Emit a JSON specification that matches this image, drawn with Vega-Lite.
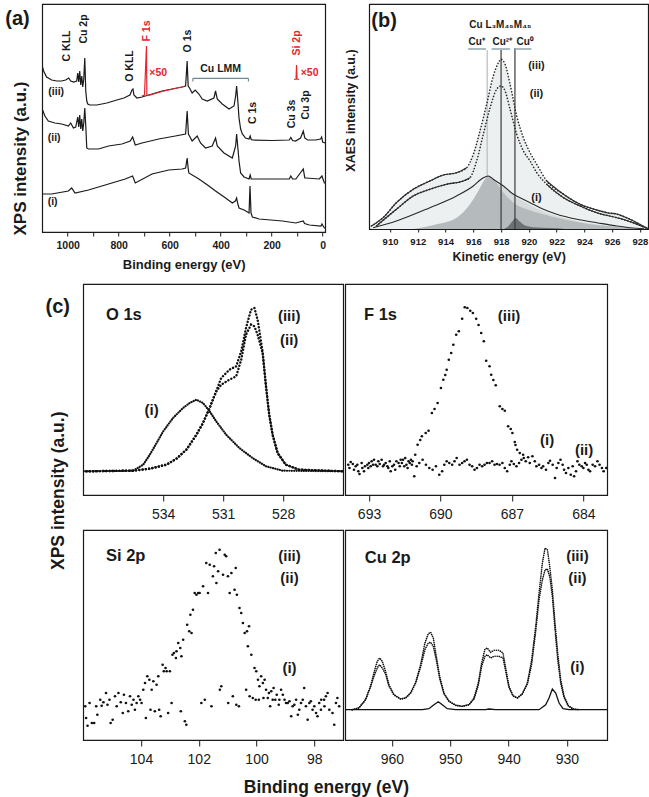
{
"$schema": "https://vega.github.io/schema/vega-lite/v6.json",
"background": "white",
"padding": {"left": 4, "top": 3, "right": 0, "bottom": 0},
"config": {
 "font": "Liberation Sans",
 "view": {"stroke": "#1a1a1a", "strokeWidth": 1.2},
 "axis": {"grid": false, "domainColor": "#1a1a1a", "tickColor": "#1a1a1a", "labelColor": "#1a1a1a", "titleColor": "#1a1a1a", "labelFont": "Liberation Sans", "titleFont": "Liberation Sans"},
 "title": {"font": "Liberation Sans", "color": "#1a1a1a"},
 "text": {"font": "Liberation Sans"}
},
"datasets": {
 "aSpec": [
  {"s":"iii","E":1100,"I":166},{"s":"iii","E":1094.5,"I":161},{"s":"iii","E":1082.7,"I":155},{"s":"iii","E":1063,"I":152},{"s":"iii","E":1043.3,"I":151},{"s":"iii","E":1023.6,"I":151},{"s":"iii","E":1007.9,"I":152},{"s":"iii","E":996,"I":154},{"s":"iii","E":988.2,"I":151},{"s":"iii","E":976.4,"I":150},{"s":"iii","E":964.6,"I":151},{"s":"iii","E":960.6,"I":159},{"s":"iii","E":956.7,"I":150},{"s":"iii","E":952.8,"I":161},{"s":"iii","E":948.8,"I":147},{"s":"iii","E":944.9,"I":156},{"s":"iii","E":940.9,"I":145},{"s":"iii","E":937,"I":153},{"s":"iii","E":933,"I":174},{"s":"iii","E":929.1,"I":141},{"s":"iii","E":925.2,"I":131},{"s":"iii","E":921.3,"I":128},{"s":"iii","E":913.4,"I":127},{"s":"iii","E":885.8,"I":127},{"s":"iii","E":846.5,"I":129},{"s":"iii","E":807.1,"I":132},{"s":"iii","E":779.5,"I":134},{"s":"iii","E":763.8,"I":136},{"s":"iii","E":755.9,"I":137},{"s":"iii","E":748,"I":142},{"s":"iii","E":744.1,"I":143},{"s":"iii","E":740.2,"I":137},{"s":"iii","E":728.3,"I":134},{"s":"iii","E":708.7,"I":135},{"s":"iii","E":669.3,"I":138},{"s":"iii","E":629.9,"I":141},{"s":"iii","E":590.6,"I":143},{"s":"iii","E":551.2,"I":145},{"s":"iii","E":537.5,"I":146},{"s":"iii","E":531.5,"I":171},{"s":"iii","E":527.5,"I":146},{"s":"iii","E":522,"I":144},{"s":"iii","E":511.8,"I":139},{"s":"iii","E":500,"I":142},{"s":"iii","E":485.4,"I":138},{"s":"iii","E":472.4,"I":133},{"s":"iii","E":452.8,"I":131},{"s":"iii","E":426.4,"I":134},{"s":"iii","E":420.1,"I":141},{"s":"iii","E":413.4,"I":133},{"s":"iii","E":393.7,"I":128},{"s":"iii","E":367.3,"I":123},{"s":"iii","E":347.6,"I":126},{"s":"iii","E":341.3,"I":136},{"s":"iii","E":337.4,"I":146},{"s":"iii","E":332.7,"I":131},{"s":"iii","E":328,"I":114},{"s":"iii","E":321.7,"I":103},{"s":"iii","E":315,"I":98},{"s":"iii","E":308.3,"I":96},{"s":"iii","E":303.1,"I":94},{"s":"iii","E":288.6,"I":93},{"s":"iii","E":284.3,"I":96},{"s":"iii","E":280.3,"I":92.5},{"s":"iii","E":275.6,"I":92},{"s":"iii","E":196.9,"I":91.5},{"s":"iii","E":131.1,"I":92},{"s":"iii","E":124.8,"I":94.5},{"s":"iii","E":118.1,"I":91.5},{"s":"iii","E":106.3,"I":91},{"s":"iii","E":86.6,"I":94},{"s":"iii","E":76,"I":101},{"s":"iii","E":70,"I":94},{"s":"iii","E":59,"I":92},{"s":"iii","E":27.6,"I":92},{"s":"iii","E":7.9,"I":93},{"s":"iii","E":3.9,"I":95},{"s":"iii","E":0,"I":90},{"s":"iii","E":-10,"I":89},
  {"s":"ii","E":1100,"I":123},{"s":"ii","E":1089.4,"I":116},{"s":"ii","E":1076,"I":111},{"s":"ii","E":1050,"I":109},{"s":"ii","E":1023.6,"I":108},{"s":"ii","E":997.2,"I":106},{"s":"ii","E":988.2,"I":109},{"s":"ii","E":977.6,"I":104},{"s":"ii","E":968.5,"I":105},{"s":"ii","E":960.6,"I":115},{"s":"ii","E":956.7,"I":105},{"s":"ii","E":952.8,"I":117},{"s":"ii","E":948.8,"I":103},{"s":"ii","E":944.9,"I":113},{"s":"ii","E":940.9,"I":101},{"s":"ii","E":937,"I":109},{"s":"ii","E":933,"I":124},{"s":"ii","E":929.1,"I":106},{"s":"ii","E":925.2,"I":84},{"s":"ii","E":918.5,"I":83},{"s":"ii","E":879.1,"I":83},{"s":"ii","E":839.8,"I":86},{"s":"ii","E":787.4,"I":88},{"s":"ii","E":754.7,"I":91},{"s":"ii","E":745.3,"I":95},{"s":"ii","E":735,"I":87},{"s":"ii","E":708.7,"I":89},{"s":"ii","E":642.9,"I":93},{"s":"ii","E":577.6,"I":96},{"s":"ii","E":537.5,"I":98},{"s":"ii","E":531.5,"I":121},{"s":"ii","E":526.5,"I":98},{"s":"ii","E":511.8,"I":91},{"s":"ii","E":492.1,"I":96},{"s":"ii","E":479.1,"I":89},{"s":"ii","E":459.4,"I":84},{"s":"ii","E":433.1,"I":86},{"s":"ii","E":420.1,"I":94},{"s":"ii","E":413.4,"I":86},{"s":"ii","E":387,"I":79},{"s":"ii","E":354.3,"I":74},{"s":"ii","E":341.3,"I":86},{"s":"ii","E":337.4,"I":98},{"s":"ii","E":328,"I":71},{"s":"ii","E":321.7,"I":59},{"s":"ii","E":308.3,"I":55},{"s":"ii","E":288.6,"I":53},{"s":"ii","E":284.3,"I":57},{"s":"ii","E":280.3,"I":53},{"s":"ii","E":275.6,"I":53},{"s":"ii","E":131.1,"I":53},{"s":"ii","E":124.8,"I":56},{"s":"ii","E":118,"I":53},{"s":"ii","E":105.1,"I":53},{"s":"ii","E":76,"I":63},{"s":"ii","E":70,"I":54},{"s":"ii","E":65.7,"I":54},{"s":"ii","E":13,"I":53},{"s":"ii","E":2.8,"I":56},{"s":"ii","E":-6.7,"I":49},{"s":"ii","E":-10,"I":49},
  {"s":"i","E":1100,"I":38},{"s":"i","E":1063,"I":38},{"s":"i","E":997.2,"I":41},{"s":"i","E":984.3,"I":44},{"s":"i","E":971.3,"I":39},{"s":"i","E":918.5,"I":42},{"s":"i","E":839.8,"I":48},{"s":"i","E":774.4,"I":53},{"s":"i","E":745.3,"I":56},{"s":"i","E":735,"I":49},{"s":"i","E":669.3,"I":58},{"s":"i","E":603.5,"I":62},{"s":"i","E":551.2,"I":63},{"s":"i","E":537.4,"I":64},{"s":"i","E":531.5,"I":74},{"s":"i","E":527.6,"I":64},{"s":"i","E":524.9,"I":59},{"s":"i","E":485.4,"I":53},{"s":"i","E":446.1,"I":46},{"s":"i","E":420.1,"I":41},{"s":"i","E":380.7,"I":34},{"s":"i","E":354.3,"I":29},{"s":"i","E":342.5,"I":31},{"s":"i","E":337.4,"I":34},{"s":"i","E":332.7,"I":28},{"s":"i","E":328,"I":24},{"s":"i","E":308.3,"I":22},{"s":"i","E":288.6,"I":19},{"s":"i","E":285,"I":46},{"s":"i","E":281,"I":19},{"s":"i","E":275.6,"I":15},{"s":"i","E":249.3,"I":13},{"s":"i","E":157.5,"I":11},{"s":"i","E":105.1,"I":9},{"s":"i","E":76,"I":11},{"s":"i","E":70.9,"I":8.5},{"s":"i","E":52.4,"I":7},{"s":"i","E":6.7,"I":6},{"s":"i","E":2.8,"I":8},{"s":"i","E":-6.7,"I":4},{"s":"i","E":-10,"I":4}
 ],
 "aRed": [
  {"g":"F","E":708.7,"I":136},{"g":"F","E":698.8,"I":137},{"g":"F","E":691,"I":186},{"g":"F","E":689.5,"I":137},{"g":"F","E":685,"I":136.5},{"g":"F","E":629.9,"I":140.5},{"g":"F","E":570.9,"I":144},{"g":"F","E":543.3,"I":145.5},
  {"g":"Si","E":112.2,"I":152.5},{"g":"Si","E":104.3,"I":153},{"g":"Si","E":102.4,"I":167},{"g":"Si","E":100.4,"I":153},{"g":"Si","E":92.5,"I":152.5}
 ],
 "aBracket": [
  {"E":509,"E2":291,"I":153.7,"I2":153.7},{"E":509,"E2":509,"I":150.5,"I2":153.7},{"E":291,"E2":291,"I":150.5,"I2":153.7}
 ],
 "aLabV": [
  {"t":"C KLL","E":1004,"I":186},{"t":"Cu 2p","E":937,"I":203},{"t":"O KLL","E":756,"I":166},{"t":"O 1s","E":528,"I":191},{"t":"C 1s","E":272,"I":119},{"t":"Cu 3s","E":122,"I":118},{"t":"Cu 3p","E":67,"I":127}
 ],
 "aLabVRed": [
  {"t":"F 1s","E":689,"I":201},{"t":"Si 2p","E":102,"I":189}
 ],
 "aLabH": [
  {"t":"Cu LMM","E":400,"I":162.7},{"t":"(iii)","E":1045,"I":140},{"t":"(ii)","E":1053,"I":94},{"t":"(i)","E":1059,"I":30}
 ],
 "aLabHRed": [
  {"t":"×50","E":645,"I":159},{"t":"×50","E":51,"I":159}
 ],
 "aPanel": [{"t":"(a)","E":1197,"I":213}],
 "bSpec": [
  {"s":"iii","seg":"L","E":908.66,"I":3},{"s":"iii","seg":"L","E":909.5,"I":11.3},{"s":"iii","seg":"L","E":910.46,"I":26.3},{"s":"iii","seg":"L","E":911.67,"I":39.7},{"s":"iii","seg":"L","E":912.87,"I":48},{"s":"iii","seg":"L","E":913.83,"I":54},{"s":"iii","seg":"L","E":914.79,"I":56.3},{"s":"iii","seg":"L","E":915.52,"I":61.3},
  {"s":"iii","seg":"C","E":916.0,"I":74.7},{"s":"iii","seg":"C","E":916.48,"I":98},{"s":"iii","seg":"C","E":916.96,"I":124.7},{"s":"iii","seg":"C","E":917.44,"I":153},{"s":"iii","seg":"C","E":917.81,"I":166.3},{"s":"iii","seg":"C","E":918.0,"I":169.7},{"s":"iii","seg":"C","E":918.29,"I":164.7},{"s":"iii","seg":"C","E":918.65,"I":144.7},{"s":"iii","seg":"C","E":919.13,"I":113},{"s":"iii","seg":"C","E":919.61,"I":91.3},{"s":"iii","seg":"C","E":920.09,"I":76.3},{"s":"iii","seg":"C","E":920.57,"I":64.7},
  {"s":"iii","seg":"R","E":921.29,"I":48},{"s":"iii","seg":"R","E":922.5,"I":34.7},{"s":"iii","seg":"R","E":923.7,"I":24.7},{"s":"iii","seg":"R","E":924.9,"I":19},{"s":"iii","seg":"R","E":925.75,"I":16},{"s":"iii","seg":"R","E":926.32,"I":15},{"s":"iii","seg":"R","E":926.83,"I":12.5},{"s":"iii","seg":"R","E":927.55,"I":8},{"s":"iii","seg":"R","E":928.27,"I":2.5},{"s":"iii","seg":"R","E":928.64,"I":0},
  {"s":"ii","seg":"L","E":909.02,"I":3},{"s":"ii","seg":"L","E":910.46,"I":19.7},{"s":"ii","seg":"L","E":911.67,"I":33},{"s":"ii","seg":"L","E":912.87,"I":39.7},{"s":"ii","seg":"L","E":914.07,"I":44.7},{"s":"ii","seg":"L","E":915.28,"I":48},{"s":"ii","seg":"L","E":915.76,"I":51.3},
  {"s":"ii","seg":"C","E":916.24,"I":68},{"s":"ii","seg":"C","E":916.72,"I":94.7},{"s":"ii","seg":"C","E":917.21,"I":121.3},{"s":"ii","seg":"C","E":917.68,"I":139.7},{"s":"ii","seg":"C","E":918.0,"I":143},{"s":"ii","seg":"C","E":918.29,"I":138},{"s":"ii","seg":"C","E":918.65,"I":119.7},{"s":"ii","seg":"C","E":919.13,"I":94.7},{"s":"ii","seg":"C","E":919.61,"I":78},{"s":"ii","seg":"C","E":920.09,"I":68},{"s":"ii","seg":"C","E":920.57,"I":56.3},
  {"s":"ii","seg":"R","E":921.29,"I":44.7},{"s":"ii","seg":"R","E":922.5,"I":31.3},{"s":"ii","seg":"R","E":923.7,"I":23},{"s":"ii","seg":"R","E":924.9,"I":16.3},{"s":"ii","seg":"R","E":926.35,"I":11.3},{"s":"ii","seg":"R","E":927.31,"I":7.3},{"s":"ii","seg":"R","E":928.27,"I":2},{"s":"ii","seg":"R","E":928.64,"I":0},
  {"s":"i","seg":"L","E":908.78,"I":1.3},{"s":"i","seg":"L","E":910.46,"I":8},{"s":"i","seg":"L","E":912.87,"I":21.3},{"s":"i","seg":"L","E":914.79,"I":33},{"s":"i","seg":"L","E":916.0,"I":43},{"s":"i","seg":"L","E":916.72,"I":51.3},{"s":"i","seg":"L","E":917.08,"I":53},{"s":"i","seg":"L","E":917.44,"I":49.7},{"s":"i","seg":"L","E":918.17,"I":43},{"s":"i","seg":"L","E":918.89,"I":34.7},{"s":"i","seg":"L","E":919.37,"I":31.3},{"s":"i","seg":"L","E":920.09,"I":26.3},{"s":"i","seg":"L","E":921.05,"I":19.7},{"s":"i","seg":"L","E":922.01,"I":14.7},{"s":"i","seg":"L","E":923.46,"I":9.7},{"s":"i","seg":"L","E":924.9,"I":6.3},{"s":"i","seg":"L","E":926.35,"I":3},{"s":"i","seg":"L","E":927.31,"I":1.3},{"s":"i","seg":"L","E":928.3,"I":0.3}
 ],
 "bCu2": [
  {"E":914.5,"I":0},{"E":915.5,"I":12},{"E":916.2,"I":28},{"E":916.8,"I":40},{"E":917.3,"I":46},{"E":917.7,"I":46.5},{"E":918.1,"I":42.5},{"E":918.6,"I":37},{"E":919.1,"I":31.5},{"E":919.6,"I":28},{"E":920.1,"I":24},{"E":921.0,"I":18},{"E":922.0,"I":13},{"E":923.0,"I":9.5},{"E":924.0,"I":6.5},{"E":925.0,"I":4.5},{"E":926.0,"I":3},{"E":927.0,"I":1.5},{"E":928.0,"I":0.5}
 ],
 "bCuP": [
  {"E":911.67,"I":0},{"E":913.35,"I":4.7},{"E":914.79,"I":11.3},{"E":915.76,"I":24.7},{"E":916.36,"I":38},{"E":916.84,"I":49.7},{"E":917.16,"I":53},{"E":917.57,"I":48},{"E":918.17,"I":36.3},{"E":918.89,"I":26.3},{"E":919.85,"I":19.7},{"E":921.05,"I":14.7},{"E":922.5,"I":9.7},{"E":924.43,"I":4.7},{"E":926.35,"I":2},{"E":927.79,"I":0.7},{"E":928.5,"I":0}
 ],
 "bCu0": [
  {"E":918.2,"I":0},{"E":918.5,"I":2.5},{"E":918.8,"I":7.5},{"E":919.05,"I":11},{"E":919.3,"I":8},{"E":919.6,"I":4.5},{"E":920.0,"I":2.5},{"E":920.6,"I":1.5},{"E":921.5,"I":1},{"E":922.5,"I":0.3}
 ],
 "bLines": [
  {"k":"Cu+","E":917,"I":179},{"k":"Cu2+","E":918,"I":179},{"k":"Cu0","E":919,"I":181}
 ],
 "bUnder": [
  {"E":915.63,"E2":916.92,"I":180},{"E":917.32,"E2":918.65,"I":180},{"E":918.95,"E2":920.19,"I":180}
 ],
 "bLab": [
  {"t":"Cu L₃M₄₅M₄₅","E":917.95,"I":204},{"t":"Cu⁺","E":916.24,"I":187},{"t":"Cu²⁺","E":918.09,"I":187},{"t":"Cu⁰","E":919.73,"I":187}
 ],
 "bLabC": [
  {"t":"(iii)","E":920.55,"I":163},{"t":"(ii)","E":920.55,"I":135},{"t":"(i)","E":920.55,"I":31}
 ],
 "bPanel": [{"t":"(b)","E":909.57,"I":208}],
 "o1s": [
  {"s":"i","E":538,"I":23.7},{"s":"i","E":535.5,"I":24.3},{"s":"i","E":535.0,"I":30.3},{"s":"i","E":534.67,"I":40.3},{"s":"i","E":534.33,"I":52},{"s":"i","E":534.0,"I":63.7},{"s":"i","E":533.51,"I":77},{"s":"i","E":533.01,"I":87},{"s":"i","E":532.68,"I":92},{"s":"i","E":532.34,"I":95.3},{"s":"i","E":532.01,"I":92},{"s":"i","E":531.68,"I":83.7},{"s":"i","E":531.35,"I":73.7},{"s":"i","E":530.85,"I":60.3},{"s":"i","E":530.19,"I":47},{"s":"i","E":529.53,"I":37},{"s":"i","E":528.86,"I":28.7},{"s":"i","E":528.03,"I":24.3},{"s":"i","E":525,"I":23.7},
  {"s":"ii","E":538,"I":23.7},{"s":"ii","E":535.5,"I":24.3},{"s":"ii","E":534.67,"I":26.3},{"s":"ii","E":533.84,"I":30.3},{"s":"ii","E":533.34,"I":36.3},{"s":"ii","E":532.84,"I":45.3},{"s":"ii","E":532.34,"I":60.3},{"s":"ii","E":532.01,"I":72},{"s":"ii","E":531.68,"I":87},{"s":"ii","E":531.35,"I":103.7},{"s":"ii","E":531.1,"I":110.3},{"s":"ii","E":530.69,"I":115.3},{"s":"ii","E":530.35,"I":118.7},{"s":"ii","E":530.1,"I":135.3},{"s":"ii","E":529.86,"I":160.3},{"s":"ii","E":529.61,"I":170.3},{"s":"ii","E":529.44,"I":168.7},{"s":"ii","E":529.28,"I":160.3},{"s":"ii","E":529.03,"I":142},{"s":"ii","E":528.86,"I":108.7},{"s":"ii","E":528.7,"I":80.3},{"s":"ii","E":528.53,"I":60.3},{"s":"ii","E":528.28,"I":42},{"s":"ii","E":527.87,"I":30.3},{"s":"ii","E":527.2,"I":25.3},{"s":"ii","E":525,"I":23.7},
  {"s":"iii","E":538,"I":23.7},{"s":"iii","E":535.5,"I":24.3},{"s":"iii","E":534.67,"I":26.3},{"s":"iii","E":533.84,"I":30.3},{"s":"iii","E":533.34,"I":36.3},{"s":"iii","E":532.84,"I":45.3},{"s":"iii","E":532.34,"I":60.3},{"s":"iii","E":532.01,"I":72},{"s":"iii","E":531.68,"I":87},{"s":"iii","E":531.35,"I":103.7},{"s":"iii","E":531.1,"I":117},{"s":"iii","E":530.69,"I":125.3},{"s":"iii","E":530.35,"I":128.7},{"s":"iii","E":530.1,"I":143.7},{"s":"iii","E":529.86,"I":167},{"s":"iii","E":529.61,"I":185.3},{"s":"iii","E":529.44,"I":187},{"s":"iii","E":529.28,"I":175.3},{"s":"iii","E":529.03,"I":143.7},{"s":"iii","E":528.86,"I":108.7},{"s":"iii","E":528.7,"I":80.3},{"s":"iii","E":528.53,"I":60.3},{"s":"iii","E":528.28,"I":42},{"s":"iii","E":527.87,"I":30.3},{"s":"iii","E":527.2,"I":25.3},{"s":"iii","E":525,"I":23.7}
 ],
 "f1s": [
  {"E":691.17,"I":33.7},{"E":691.06,"I":40.3},{"E":690.96,"I":50.3},{"E":690.85,"I":55},{"E":690.78,"I":58.7},{"E":690.62,"I":62},{"E":690.5,"I":64.3},{"E":690.36,"I":82},{"E":690.25,"I":86},{"E":690.12,"I":92},{"E":689.98,"I":107},{"E":689.88,"I":115.3},{"E":689.8,"I":120},{"E":689.74,"I":125.3},{"E":689.65,"I":135.3},{"E":689.55,"I":142},{"E":689.46,"I":150.3},{"E":689.34,"I":160.3},{"E":689.23,"I":163.7},{"E":689.09,"I":176.3},{"E":688.98,"I":187.7},{"E":688.87,"I":187},{"E":688.75,"I":184.3},{"E":688.64,"I":182},{"E":688.5,"I":176.3},{"E":688.4,"I":170},{"E":688.29,"I":162},{"E":688.18,"I":153.7},{"E":688.08,"I":134.3},{"E":687.94,"I":128.7},{"E":687.87,"I":120.3},{"E":687.78,"I":115},{"E":687.68,"I":109.7},{"E":687.51,"I":88.7},{"E":687.4,"I":86},{"E":687.3,"I":84.3},{"E":687.16,"I":68.7},{"E":687.05,"I":66},{"E":686.98,"I":62},{"E":686.88,"I":53},{"E":686.85,"I":50},{"E":686.78,"I":45.3},{"E":686.67,"I":42},{"E":686.53,"I":40.3},
  {"E":693.87,"I":30.3},{"E":693.82,"I":27},{"E":693.77,"I":33},{"E":693.68,"I":31},{"E":693.63,"I":25.3},{"E":693.56,"I":28.7},{"E":693.49,"I":30.3},{"E":693.45,"I":23.7},{"E":693.4,"I":21},{"E":693.31,"I":32},{"E":693.28,"I":27},{"E":693.21,"I":23.7},{"E":693.17,"I":28.7},{"E":693.07,"I":30.3},{"E":693.03,"I":27},{"E":693.0,"I":32},{"E":692.93,"I":28.7},{"E":692.89,"I":33.7},{"E":692.83,"I":30.3},{"E":692.79,"I":35.3},{"E":692.72,"I":30.3},{"E":692.65,"I":28.7},{"E":692.61,"I":33.7},{"E":692.55,"I":31},{"E":692.47,"I":35.3},{"E":692.41,"I":28.7},{"E":692.37,"I":30.3},{"E":692.3,"I":32},{"E":692.23,"I":28.7},{"E":692.19,"I":27},{"E":692.13,"I":33.7},{"E":692.09,"I":23.7},{"E":692.02,"I":28.7},{"E":691.95,"I":30.3},{"E":691.9,"I":25.3},{"E":691.85,"I":33.7},{"E":691.76,"I":32},{"E":691.71,"I":28.7},{"E":691.67,"I":35.3},{"E":691.62,"I":32},{"E":691.57,"I":35.3},{"E":691.52,"I":28.7},{"E":691.48,"I":37},{"E":691.43,"I":30.3},{"E":691.38,"I":27},{"E":691.34,"I":33.7},{"E":691.29,"I":32},{"E":691.24,"I":35.3},{"E":691.2,"I":30.3},
  {"E":691.1,"I":18.7},{"E":691.0,"I":28.7},{"E":690.89,"I":32},{"E":690.75,"I":35.3},{"E":690.61,"I":30.3},{"E":690.47,"I":27},{"E":690.33,"I":25.3},{"E":690.19,"I":28.7},{"E":690.05,"I":20.3},{"E":689.93,"I":23.7},{"E":689.84,"I":30.3},{"E":689.74,"I":33.7},{"E":689.63,"I":32},{"E":689.51,"I":30.3},{"E":689.41,"I":33.7},{"E":689.32,"I":37},{"E":689.2,"I":30.3},{"E":689.09,"I":32},{"E":688.99,"I":33.7},{"E":688.89,"I":35.3},{"E":688.78,"I":30.3},{"E":688.67,"I":28.7},{"E":688.57,"I":25.3},{"E":688.47,"I":27},{"E":688.36,"I":30.3},{"E":688.25,"I":28.7},{"E":688.15,"I":30.3},{"E":688.05,"I":32},{"E":687.94,"I":32},{"E":687.83,"I":33.7},{"E":687.73,"I":30.3},{"E":687.63,"I":31},{"E":687.52,"I":30.3},{"E":687.4,"I":32},{"E":687.3,"I":27},{"E":687.2,"I":23.7},{"E":687.09,"I":30.3},{"E":687.02,"I":33.7},{"E":686.92,"I":31},{"E":686.81,"I":28.7},{"E":686.7,"I":32},{"E":686.6,"I":35.3},{"E":686.5,"I":37},{"E":686.42,"I":33.7},{"E":686.32,"I":37.7},{"E":686.25,"I":32},{"E":686.14,"I":38.7},{"E":686.04,"I":33.7},{"E":685.97,"I":28.7},{"E":685.86,"I":30.3},{"E":685.76,"I":27},{"E":685.69,"I":28.7},{"E":685.57,"I":25.3},{"E":685.47,"I":32},{"E":685.4,"I":34.3},{"E":685.29,"I":30.3},{"E":685.19,"I":17},{"E":685.12,"I":27},{"E":685.05,"I":32},{"E":684.96,"I":35.3},{"E":684.87,"I":30.3},{"E":684.81,"I":25.3},{"E":684.73,"I":22},{"E":684.63,"I":27},{"E":684.53,"I":20.3},{"E":684.45,"I":28.7},{"E":684.39,"I":18.7},{"E":684.31,"I":23.7},{"E":684.25,"I":33.7},{"E":684.17,"I":30.3},{"E":684.07,"I":28.7},{"E":684.0,"I":27},{"E":683.93,"I":32},{"E":683.86,"I":30.3},{"E":683.79,"I":25.3},{"E":683.72,"I":23.7},{"E":683.61,"I":30.3},{"E":683.51,"I":28.7},{"E":683.41,"I":33.7},{"E":683.32,"I":30.3},{"E":683.22,"I":27},{"E":683.15,"I":23.7},{"E":683.04,"I":27}
 ],
 "si2p": [
  {"E":105.93,"I":33.7},{"E":105.9,"I":22},{"E":105.85,"I":14.3},{"E":105.78,"I":37},{"E":105.7,"I":17},{"E":105.62,"I":17},{"E":105.55,"I":33.7},{"E":105.51,"I":25.3},{"E":105.41,"I":40.3},{"E":105.36,"I":34.3},{"E":105.3,"I":37.7},{"E":105.21,"I":47},{"E":105.16,"I":35.3},{"E":105.09,"I":40.3},{"E":105.05,"I":17},{"E":104.98,"I":20.3},{"E":104.9,"I":43.7},{"E":104.84,"I":33.7},{"E":104.78,"I":47},{"E":104.7,"I":37.7},{"E":104.63,"I":27},{"E":104.59,"I":45.3},{"E":104.52,"I":37},{"E":104.44,"I":28.7},{"E":104.38,"I":43.7},{"E":104.32,"I":35.3},{"E":104.26,"I":40.3},{"E":104.21,"I":30.3},{"E":104.15,"I":37},{"E":104.09,"I":43.7},{"E":104.03,"I":40.3},{"E":103.98,"I":37},{"E":103.92,"I":50.3},{"E":103.86,"I":57},{"E":103.83,"I":22},{"E":103.78,"I":63.7},{"E":103.71,"I":60.3},{"E":103.67,"I":30.3},{"E":103.63,"I":50.3},{"E":103.57,"I":58.7},{"E":103.52,"I":28.7},{"E":103.46,"I":55.3},{"E":103.4,"I":63.7},{"E":103.37,"I":30.3},{"E":103.32,"I":23.7},{"E":103.25,"I":75.3},{"E":103.21,"I":68.7},{"E":103.15,"I":72},{"E":103.11,"I":68.7},{"E":103.06,"I":27},{"E":103.0,"I":68.7},{"E":102.94,"I":37},{"E":102.91,"I":85.3},{"E":102.86,"I":87},{"E":102.79,"I":82},{"E":102.77,"I":88.7},{"E":102.71,"I":97},{"E":102.64,"I":92},{"E":102.62,"I":28.7},{"E":102.6,"I":83.7},{"E":102.54,"I":100.3},{"E":102.48,"I":18.7},{"E":102.43,"I":15.3},{"E":102.4,"I":115.3},{"E":102.33,"I":108.7},{"E":102.29,"I":125.3},{"E":102.25,"I":107},{"E":102.2,"I":130.3},{"E":102.14,"I":147},{"E":102.08,"I":145.3},{"E":102.02,"I":147},{"E":101.97,"I":147},{"E":101.91,"I":37},{"E":101.85,"I":153.7},{"E":101.79,"I":40.3},{"E":101.74,"I":177},{"E":101.68,"I":147},{"E":101.62,"I":175.3},{"E":101.56,"I":33.7},{"E":101.51,"I":163.7},{"E":101.47,"I":173.7},{"E":101.41,"I":187},{"E":101.39,"I":157},{"E":101.33,"I":168.7},{"E":101.28,"I":190.3},{"E":101.27,"I":50.3},{"E":101.22,"I":53.7},{"E":101.16,"I":165.3},{"E":101.1,"I":185.3},{"E":101.05,"I":183.7},{"E":100.99,"I":163.7},{"E":100.98,"I":37},{"E":100.93,"I":147},{"E":100.87,"I":167},{"E":100.82,"I":43.7},{"E":100.76,"I":150.3},{"E":100.72,"I":172},{"E":100.7,"I":35.3},{"E":100.68,"I":145.3},{"E":100.61,"I":33.7},{"E":100.59,"I":132},{"E":100.53,"I":127},{"E":100.47,"I":117},{"E":100.41,"I":107},{"E":100.36,"I":50.3},{"E":100.33,"I":108.7},{"E":100.3,"I":93.7},{"E":100.26,"I":113.7},{"E":100.24,"I":43.7},{"E":100.18,"I":85.3},{"E":100.13,"I":42},{"E":100.07,"I":72},{"E":100.03,"I":40.3},{"E":100.01,"I":68.7},{"E":99.95,"I":60.3},{"E":99.92,"I":40.3},{"E":99.9,"I":53.7},{"E":99.84,"I":63.7},{"E":99.78,"I":57},{"E":99.76,"I":42},{"E":99.72,"I":60.3},{"E":99.67,"I":50.3},{"E":99.61,"I":42},{"E":99.57,"I":47},{"E":99.53,"I":33.7},{"E":99.49,"I":48.7},{"E":99.44,"I":40.3},{"E":99.41,"I":52},{"E":99.35,"I":40.3},{"E":99.3,"I":45.3},{"E":99.23,"I":35.3},{"E":99.21,"I":40.3},{"E":99.15,"I":50.3},{"E":99.09,"I":45.3},{"E":99.03,"I":40.3},{"E":98.98,"I":37},{"E":98.92,"I":37},{"E":98.86,"I":38.7},{"E":98.8,"I":23.7},{"E":98.75,"I":33.7},{"E":98.69,"I":35.3},{"E":98.63,"I":40.3},{"E":98.57,"I":25.3},{"E":98.52,"I":30.3},{"E":98.46,"I":37},{"E":98.4,"I":40.3},{"E":98.35,"I":52},{"E":98.29,"I":33.7},{"E":98.23,"I":20.3},{"E":98.17,"I":37},{"E":98.12,"I":38.7},{"E":98.06,"I":30.3},{"E":98.0,"I":33.7},{"E":97.94,"I":27},{"E":97.89,"I":23.7},{"E":97.83,"I":37},{"E":97.77,"I":30.3},{"E":97.76,"I":40.3},{"E":97.66,"I":40.3},{"E":97.65,"I":33.7},{"E":97.6,"I":43.7},{"E":97.54,"I":47},{"E":97.48,"I":30.3},{"E":97.37,"I":27},{"E":97.31,"I":15.3},{"E":97.25,"I":37},{"E":97.2,"I":42},{"E":97.14,"I":33.7}
 ],
 "cu2p": [
  {"s":"iii","E":966.8,"I":30.3},{"s":"iii","E":965.66,"I":32},{"s":"iii","E":964.51,"I":40.3},{"s":"iii","E":963.65,"I":53.7},{"s":"iii","E":963.08,"I":67},{"s":"iii","E":962.51,"I":78.7},{"s":"iii","E":962.11,"I":82},{"s":"iii","E":961.65,"I":78.7},{"s":"iii","E":961.08,"I":68.7},{"s":"iii","E":960.51,"I":55.3},{"s":"iii","E":959.65,"I":45.3},{"s":"iii","E":958.51,"I":41},{"s":"iii","E":957.65,"I":42},{"s":"iii","E":956.79,"I":47},{"s":"iii","E":955.94,"I":57},{"s":"iii","E":955.08,"I":75.3},{"s":"iii","E":954.34,"I":97},{"s":"iii","E":953.76,"I":106.3},{"s":"iii","E":953.36,"I":107.7},{"s":"iii","E":952.9,"I":102},{"s":"iii","E":952.39,"I":83.7},{"s":"iii","E":951.82,"I":63.7},{"s":"iii","E":951.08,"I":47},{"s":"iii","E":950.22,"I":38.7},{"s":"iii","E":949.07,"I":34.7},{"s":"iii","E":947.93,"I":33.7},{"s":"iii","E":946.79,"I":35.3},{"s":"iii","E":945.93,"I":42},{"s":"iii","E":945.19,"I":57},{"s":"iii","E":944.62,"I":77},{"s":"iii","E":944.04,"I":91},{"s":"iii","E":943.65,"I":92},{"s":"iii","E":943.07,"I":87.7},{"s":"iii","E":942.5,"I":89.7},{"s":"iii","E":941.64,"I":89.7},{"s":"iii","E":940.96,"I":87},{"s":"iii","E":940.5,"I":72},{"s":"iii","E":939.93,"I":53.7},{"s":"iii","E":939.24,"I":44.3},{"s":"iii","E":938.5,"I":42},{"s":"iii","E":937.64,"I":46.3},{"s":"iii","E":936.78,"I":57},{"s":"iii","E":936.04,"I":80.3},{"s":"iii","E":935.35,"I":113.7},{"s":"iii","E":934.78,"I":147},{"s":"iii","E":934.21,"I":177},{"s":"iii","E":933.75,"I":192},{"s":"iii","E":933.35,"I":190.3},{"s":"iii","E":932.95,"I":173.7},{"s":"iii","E":932.5,"I":150.3},{"s":"iii","E":932.04,"I":117},{"s":"iii","E":931.58,"I":87},{"s":"iii","E":931.07,"I":60.3},{"s":"iii","E":930.49,"I":43.7},{"s":"iii","E":929.75,"I":34.3},{"s":"iii","E":928.95,"I":31},{"s":"iii","E":927.92,"I":30.3},
  {"s":"ii","E":966.8,"I":30.3},{"s":"ii","E":965.66,"I":32},{"s":"ii","E":964.51,"I":40.3},{"s":"ii","E":963.65,"I":53.7},{"s":"ii","E":963.08,"I":63.7},{"s":"ii","E":962.51,"I":72},{"s":"ii","E":962.11,"I":75.3},{"s":"ii","E":961.65,"I":72},{"s":"ii","E":961.08,"I":66},{"s":"ii","E":960.51,"I":54},{"s":"ii","E":959.65,"I":45},{"s":"ii","E":958.51,"I":41},{"s":"ii","E":957.65,"I":42},{"s":"ii","E":956.79,"I":47},{"s":"ii","E":955.94,"I":57},{"s":"ii","E":955.08,"I":73},{"s":"ii","E":954.34,"I":90.3},{"s":"ii","E":953.76,"I":97},{"s":"ii","E":953.36,"I":97.7},{"s":"ii","E":952.9,"I":93.7},{"s":"ii","E":952.39,"I":80.3},{"s":"ii","E":951.82,"I":62},{"s":"ii","E":951.08,"I":46.5},{"s":"ii","E":950.22,"I":38.7},{"s":"ii","E":949.07,"I":34.7},{"s":"ii","E":947.93,"I":33.7},{"s":"ii","E":946.79,"I":35.3},{"s":"ii","E":945.93,"I":41},{"s":"ii","E":945.19,"I":55},{"s":"ii","E":944.62,"I":73.7},{"s":"ii","E":944.04,"I":83.7},{"s":"ii","E":943.65,"I":85.3},{"s":"ii","E":943.07,"I":82},{"s":"ii","E":942.5,"I":83.7},{"s":"ii","E":941.64,"I":83.7},{"s":"ii","E":940.96,"I":82},{"s":"ii","E":940.5,"I":69},{"s":"ii","E":939.93,"I":52.5},{"s":"ii","E":939.24,"I":44},{"s":"ii","E":938.5,"I":42},{"s":"ii","E":937.64,"I":46},{"s":"ii","E":936.78,"I":56},{"s":"ii","E":936.04,"I":76},{"s":"ii","E":935.35,"I":108.7},{"s":"ii","E":934.78,"I":140.3},{"s":"ii","E":934.21,"I":160.3},{"s":"ii","E":933.75,"I":170.3},{"s":"ii","E":933.35,"I":171},{"s":"ii","E":932.95,"I":163.7},{"s":"ii","E":932.5,"I":143.7},{"s":"ii","E":932.04,"I":110.3},{"s":"ii","E":931.58,"I":80.3},{"s":"ii","E":931.07,"I":57},{"s":"ii","E":930.49,"I":42.5},{"s":"ii","E":929.75,"I":34},{"s":"ii","E":928.95,"I":31},{"s":"ii","E":927.92,"I":30.3},
  {"s":"i","E":968.5,"I":30.3},{"s":"i","E":954.79,"I":30.3},{"s":"i","E":953.65,"I":31.3},{"s":"i","E":952.79,"I":35.3},{"s":"i","E":952.05,"I":38.3},{"s":"i","E":951.36,"I":35.3},{"s":"i","E":950.5,"I":31.3},{"s":"i","E":949.07,"I":30.3},{"s":"i","E":943.93,"I":30.3},{"s":"i","E":943.36,"I":31},{"s":"i","E":942.21,"I":30.3},{"s":"i","E":934.78,"I":30.3},{"s":"i","E":933.64,"I":35.3},{"s":"i","E":933.07,"I":42},{"s":"i","E":932.5,"I":51},{"s":"i","E":931.92,"I":47},{"s":"i","E":931.35,"I":37},{"s":"i","E":930.67,"I":31.3},{"s":"i","E":929.64,"I":30.3},{"s":"i","E":922.5,"I":30.3}
 ]
},
"vconcat": [
 {
  "spacing": 17,
  "hconcat": [
   {
    "width": 283, "height": 228,
    "encoding": {
     "x": {"field": "E", "type": "quantitative", "scale": {"domain": [-10, 1100], "reverse": true, "nice": false, "zero": false},
      "axis": {"values": [0,100,200,300,400,500,600,700,800,900,1000], "format": "d", "labelExpr": "datum.value % 200 === 0 ? datum.label : ''", "labelOverlap": false, "labelFlush": false, "labelFontSize": 10.5, "labelFontWeight": "bold", "tickSize": 4, "labelPadding": 4, "title": "Binding energy (eV)", "titleFontSize": 13, "titleFontWeight": "bold", "titlePadding": 8}},
     "y": {"field": "I", "type": "quantitative", "scale": {"domain": [0, 228], "nice": false, "zero": false},
      "axis": {"labels": false, "ticks": false, "domain": false, "title": "XPS intensity (a.u.)", "titleFontSize": 17, "titleFontWeight": "bold", "titlePadding": 13, "titleY": 154}}
    },
    "layer": [
     {"data": {"name": "aSpec"}, "mark": {"type": "line", "color": "#1a1a1a", "strokeWidth": 1.2, "clip": true}, "encoding": {"detail": {"field": "s"}}},
     {"data": {"name": "aRed"}, "mark": {"type": "line", "color": "#e5262e", "strokeWidth": 1.2, "clip": true}, "encoding": {"detail": {"field": "g"}}},
     {"data": {"name": "aBracket"}, "mark": {"type": "rule", "color": "#6d8c98", "strokeWidth": 1.2}, "encoding": {"x2": {"field": "E2"}, "y2": {"field": "I2"}}},
     {"data": {"name": "aLabV"}, "mark": {"type": "text", "angle": 270, "fontSize": 10.5, "fontWeight": "bold", "color": "#1a1a1a"}, "encoding": {"text": {"field": "t"}}},
     {"data": {"name": "aLabVRed"}, "mark": {"type": "text", "angle": 270, "fontSize": 10.5, "fontWeight": "bold", "color": "#e5262e"}, "encoding": {"text": {"field": "t"}}},
     {"data": {"name": "aLabH"}, "mark": {"type": "text", "fontSize": 10.5, "fontWeight": "bold", "color": "#1a1a1a"}, "encoding": {"text": {"field": "t"}}},
     {"data": {"name": "aLabHRed"}, "mark": {"type": "text", "fontSize": 10.5, "fontWeight": "bold", "color": "#e5262e"}, "encoding": {"text": {"field": "t"}}},
     {"data": {"name": "aPanel"}, "mark": {"type": "text", "fontSize": 20, "fontWeight": "bold", "color": "#1a1a1a"}, "encoding": {"text": {"field": "t"}}}
    ]
   },
   {
    "width": 279, "height": 225,
    "encoding": {
     "x": {"field": "E", "type": "quantitative", "scale": {"domain": [908.5, 928.6], "nice": false, "zero": false},
      "axis": {"values": [910,912,914,916,918,920,922,924,926,928], "labelFontSize": 9.5, "labelFontWeight": "bold", "tickSize": 3, "labelPadding": 4, "labelFlush": false, "title": "Kinetic energy (eV)", "titleFontSize": 12.5, "titleFontWeight": "bold", "titlePadding": 5}},
     "y": {"field": "I", "type": "quantitative", "scale": {"domain": [0, 225], "nice": false, "zero": false},
      "axis": {"labels": false, "ticks": false, "domain": false, "title": "XAES intensity (a.u.)", "titleFontSize": 12.5, "titleFontWeight": "bold", "titlePadding": 12, "titleY": 106}}
    },
    "layer": [
     {"data": {"name": "bSpec"}, "transform": [{"filter": "datum.s === 'iii'"}], "mark": {"type": "area", "color": "#edf0f1", "interpolate": "monotone", "clip": true}},
     {"data": {"name": "bCu2"}, "mark": {"type": "area", "color": "#d6dadb", "interpolate": "monotone", "clip": true}},
     {"data": {"name": "bCuP"}, "mark": {"type": "area", "color": "#b5babc", "interpolate": "monotone", "clip": true}},
     {"data": {"name": "bCu0"}, "mark": {"type": "area", "color": "#6c7274", "interpolate": "monotone", "clip": true}},
     {"data": {"name": "bLines"}, "mark": {"type": "rule", "strokeWidth": 1.2}, "encoding": {"y2": {"datum": 0}, "color": {"field": "k", "type": "nominal", "scale": {"domain": ["Cu+", "Cu2+", "Cu0"], "range": ["#b3bdc1", "#3a3a3a", "#3a3a3a"]}, "legend": null}}},
     {"data": {"name": "bUnder"}, "mark": {"type": "rule", "color": "#8ea4ad", "strokeWidth": 1.5}, "encoding": {"x2": {"field": "E2"}}},
     {"data": {"name": "bSpec"}, "transform": [{"filter": "datum.s !== 'i'"}], "mark": {"type": "line", "color": "#2a2a2a", "strokeWidth": 1.6, "strokeDash": [0.1, 3], "strokeCap": "round", "interpolate": "monotone", "clip": true}, "encoding": {"detail": {"field": "s"}}},
     {"data": {"name": "bSpec"}, "transform": [{"filter": "datum.seg !== 'C'"}], "mark": {"type": "line", "color": "#2a2a2a", "strokeWidth": 1.1, "interpolate": "monotone", "clip": true}, "encoding": {"detail": [{"field": "s"}, {"field": "seg"}]}},
     {"data": {"name": "bLab"}, "mark": {"type": "text", "fontSize": 10, "fontWeight": "bold", "color": "#1a1a1a"}, "encoding": {"text": {"field": "t"}}},
     {"data": {"name": "bLabC"}, "mark": {"type": "text", "fontSize": 11, "fontWeight": "bold", "color": "#1a1a1a"}, "encoding": {"text": {"field": "t"}}},
     {"data": {"name": "bPanel"}, "mark": {"type": "text", "fontSize": 20, "fontWeight": "bold", "color": "#1a1a1a"}, "encoding": {"text": {"field": "t"}}}
    ]
   }
  ]
 },
 {
  "title": {"text": "XPS intensity (a.u.)", "orient": "left", "anchor": "middle", "offset": 0, "dx": 49, "dy": 23, "fontSize": 17.5, "fontWeight": "bold"},
  "spacing": 7,
  "vconcat": [
   {
    "spacing": 0,
    "hconcat": [
     {
      "width": 260, "height": 211,
      "encoding": {
       "x": {"field": "E", "type": "quantitative", "scale": {"domain": [525, 538], "reverse": true, "nice": false, "zero": false}, "axis": {"values": [534, 531, 528], "title": null, "labelFontSize": 14, "tickSize": 6, "labelPadding": 6}},
       "y": {"field": "I", "type": "quantitative", "scale": {"domain": [0, 211], "nice": false, "zero": false}, "axis": null}
      },
      "layer": [
       {"data": {"name": "o1s"}, "transform": [{"filter": "datum.s !== 'i'"}], "mark": {"type": "line", "color": "#111", "strokeWidth": 2.4, "strokeDash": [0.1, 3.2], "strokeCap": "round", "clip": true}, "encoding": {"detail": {"field": "s"}}},
       {"data": {"name": "o1s"}, "transform": [{"filter": "datum.s === 'i'"}], "mark": {"type": "line", "color": "#111", "strokeWidth": 2.2, "strokeDash": [0.1, 2.3], "strokeCap": "round", "clip": true}},
       {"data": {"values": [{"t": "O 1s", "E": 536.86, "I": 180.3}]}, "mark": {"type": "text", "align": "left", "fontSize": 16.5, "fontWeight": "bold", "color": "#1a1a1a"}, "encoding": {"text": {"field": "t"}}},
       {"data": {"values": [{"t": "(iii)", "E": 527.7, "I": 178.7}, {"t": "(ii)", "E": 527.7, "I": 155.3}, {"t": "(i)", "E": 534.58, "I": 85.3}]}, "mark": {"type": "text", "fontSize": 15, "fontWeight": "bold", "color": "#1a1a1a"}, "encoding": {"text": {"field": "t"}}},
       {"data": {"values": [{"t": "(c)", "E": 539.27, "I": 188}]}, "mark": {"type": "text", "fontSize": 20, "fontWeight": "bold", "color": "#1a1a1a"}, "encoding": {"text": {"field": "t"}}}
      ]
     },
     {
      "width": 262, "height": 211,
      "encoding": {
       "x": {"field": "E", "type": "quantitative", "scale": {"domain": [683, 694], "reverse": true, "nice": false, "zero": false}, "axis": {"values": [693, 690, 687, 684], "title": null, "labelFontSize": 14, "tickSize": 6, "labelPadding": 6}},
       "y": {"field": "I", "type": "quantitative", "scale": {"domain": [0, 211], "nice": false, "zero": false}, "axis": null}
      },
      "layer": [
       {"data": {"name": "f1s"}, "mark": {"type": "circle", "size": 7, "color": "#111", "opacity": 1, "clip": true}},
       {"data": {"values": [{"t": "F 1s", "E": 693.21, "I": 180.3}]}, "mark": {"type": "text", "align": "left", "fontSize": 16.5, "fontWeight": "bold", "color": "#1a1a1a"}, "encoding": {"text": {"field": "t"}}},
       {"data": {"values": [{"t": "(iii)", "E": 687.12, "I": 178.7}, {"t": "(i)", "E": 685.52, "I": 55.3}, {"t": "(ii)", "E": 683.97, "I": 45.3}]}, "mark": {"type": "text", "fontSize": 15, "fontWeight": "bold", "color": "#1a1a1a"}, "encoding": {"text": {"field": "t"}}}
      ]
     }
    ]
   },
   {
    "title": {"text": "Binding energy (eV)", "orient": "bottom", "anchor": "middle", "frame": "bounds", "offset": 12, "fontSize": 17.5, "fontWeight": "bold"},
    "spacing": 0,
    "hconcat": [
     {
      "width": 260, "height": 210,
      "encoding": {
       "x": {"field": "E", "type": "quantitative", "scale": {"domain": [97, 106], "reverse": true, "nice": false, "zero": false}, "axis": {"values": [104, 102, 100, 98], "title": null, "labelFontSize": 14, "tickSize": 6, "labelPadding": 6}},
       "y": {"field": "I", "type": "quantitative", "scale": {"domain": [0, 210], "nice": false, "zero": false}, "axis": null}
      },
      "layer": [
       {"data": {"name": "si2p"}, "mark": {"type": "circle", "size": 7, "color": "#111", "opacity": 1, "clip": true}},
       {"data": {"values": [{"t": "Si 2p", "E": 105.21, "I": 183.7}]}, "mark": {"type": "text", "align": "left", "fontSize": 16.5, "fontWeight": "bold", "color": "#1a1a1a"}, "encoding": {"text": {"field": "t"}}},
       {"data": {"values": [{"t": "(iii)", "E": 98.86, "I": 183.7}, {"t": "(ii)", "E": 98.86, "I": 162}, {"t": "(i)", "E": 98.86, "I": 72}]}, "mark": {"type": "text", "fontSize": 15, "fontWeight": "bold", "color": "#1a1a1a"}, "encoding": {"text": {"field": "t"}}},
       {"data": {"values": [{"t": "(c)", "E": 106.88, "I": 100}]}, "mark": {"type": "text", "fontSize": 20, "fontWeight": "bold", "opacity": 0}, "encoding": {"text": {"field": "t"}}}
      ]
     },
     {
      "width": 262, "height": 210,
      "encoding": {
       "x": {"field": "E", "type": "quantitative", "scale": {"domain": [923.1, 968], "reverse": true, "nice": false, "zero": false}, "axis": {"values": [960, 950, 940, 930], "title": null, "labelFontSize": 14, "tickSize": 6, "labelPadding": 6}},
       "y": {"field": "I", "type": "quantitative", "scale": {"domain": [0, 210], "nice": false, "zero": false}, "axis": null}
      },
      "layer": [
       {"data": {"name": "cu2p"}, "transform": [{"filter": "datum.s !== 'i'"}], "mark": {"type": "line", "color": "#111", "strokeWidth": 1.6, "strokeDash": [0.1, 2.0], "strokeCap": "round", "clip": true}, "encoding": {"detail": {"field": "s"}}},
       {"data": {"name": "cu2p"}, "transform": [{"filter": "datum.s === 'i'"}], "mark": {"type": "line", "color": "#111", "strokeWidth": 1.3, "clip": true}},
       {"data": {"values": [{"t": "Cu 2p", "E": 964.63, "I": 182}]}, "mark": {"type": "text", "align": "left", "fontSize": 16.5, "fontWeight": "bold", "color": "#1a1a1a"}, "encoding": {"text": {"field": "t"}}},
       {"data": {"values": [{"t": "(iii)", "E": 928.21, "I": 183.7}, {"t": "(ii)", "E": 928.21, "I": 162}, {"t": "(i)", "E": 928.21, "I": 73}]}, "mark": {"type": "text", "fontSize": 15, "fontWeight": "bold", "color": "#1a1a1a"}, "encoding": {"text": {"field": "t"}}}
      ]
     }
    ]
   }
  ]
 }
],
"spacing": 10,
"center": true
}
